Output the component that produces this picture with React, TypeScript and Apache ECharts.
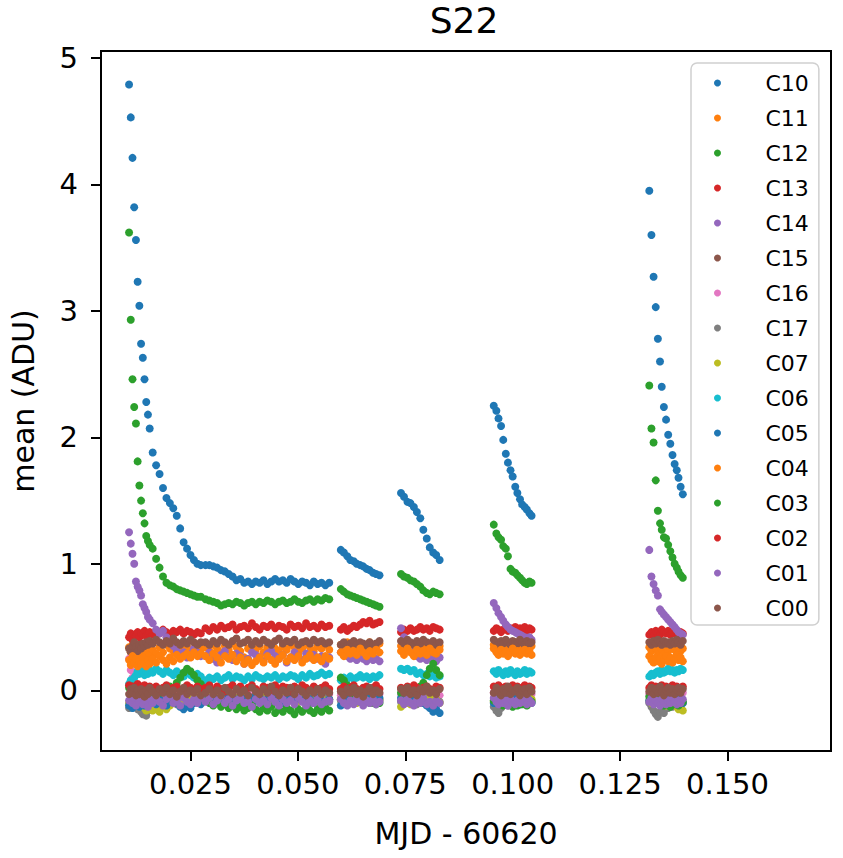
import React, { useEffect, useRef } from 'react';
import * as echarts from 'echarts';

// MJD - 60620 for each observing block (1a/1b/1c are one block split by a short gap)
const T1A = [0.0107, 0.0111, 0.0115, 0.0119, 0.0123, 0.0127, 0.0131, 0.0135, 0.0139, 0.0143, 0.0147, 0.0151, 0.0155];
const T1B = [0.0162, 0.0170, 0.0178, 0.0186, 0.0194, 0.0202, 0.0210, 0.0218, 0.0226, 0.0234, 0.0242, 0.0250, 0.0258, 0.0266, 0.0274];
const T1C = [
  0.0285, 0.0294, 0.0303, 0.0312, 0.0321, 0.0330, 0.0339, 0.0348, 0.0357, 0.0366, 0.0375, 0.0384, 0.0393, 0.0402, 0.0411, 0.0420, 0.0429,
  0.0438, 0.0447, 0.0456, 0.0465, 0.0474, 0.0483, 0.0492, 0.0501, 0.0510, 0.0519, 0.0528, 0.0537, 0.0546, 0.0555, 0.0564, 0.0573,
];
const T2 = [0.0600, 0.0607, 0.0615, 0.0622, 0.0630, 0.0637, 0.0645, 0.0652, 0.0660, 0.0667, 0.0675, 0.0682, 0.0690];
const T3 = [0.0740, 0.0747, 0.0755, 0.0762, 0.0770, 0.0777, 0.0785, 0.0792, 0.0800, 0.0807, 0.0815, 0.0822, 0.0830];
const T4 = [0.0956, 0.0962, 0.0967, 0.0973, 0.0978, 0.0984, 0.0989, 0.0995, 0.1000, 0.1006, 0.1011, 0.1017, 0.1022, 0.1028, 0.1033, 0.1039, 0.1044];
const T5 = [0.1318, 0.1323, 0.1328, 0.1333, 0.1338, 0.1343, 0.1347, 0.1352, 0.1357, 0.1362, 0.1367, 0.1372, 0.1377, 0.1382, 0.1386, 0.1391, 0.1396];
const BLOCKS = [T1A, T1B, T1C, T2, T3, T4, T5];

// mean (ADU) per channel, one list per block
const C10 = [
  [4.79, 4.53, 4.21, 3.82, 3.56, 3.23, 3.04, 2.74, 2.63, 2.46, 2.28, 2.18, 2.07],
  [1.88, 1.78, 1.71, 1.60, 1.52, 1.48, 1.44, 1.38, 1.28, 1.17, 1.12, 1.07, 1.03, 1.00, 0.99],
  [0.99, 0.99, 0.98, 0.97, 0.95, 0.94, 0.92, 0.90, 0.87, 0.88, 0.85, 0.86, 0.84, 0.86, 0.85, 0.87, 0.84, 0.86, 0.88, 0.86, 0.87, 0.85, 0.88, 0.86, 0.84, 0.86, 0.85, 0.83, 0.86, 0.84, 0.85, 0.83, 0.85],
  [1.11, 1.09, 1.06, 1.03, 1.02, 1.00, 0.99, 0.98, 0.96, 0.95, 0.93, 0.92, 0.91],
  [1.56, 1.53, 1.49, 1.48, 1.45, 1.41, 1.36, 1.27, 1.20, 1.13, 1.09, 1.07, 1.03],
  [2.25, 2.21, 2.15, 2.09, 1.98, 1.87, 1.80, 1.74, 1.69, 1.61, 1.56, 1.51, 1.47, 1.45, 1.43, 1.40, 1.38],
  [3.95, 3.60, 3.27, 3.03, 2.78, 2.60, 2.40, 2.24, 2.14, 2.02, 1.95, 1.86, 1.79, 1.74, 1.68, 1.61, 1.55],
];
const C11 = [
  [0.34, 0.30, 0.36, 0.32, 0.27, 0.24, 0.29, 0.26, 0.30, 0.27, 0.31, 0.25, 0.28],
  [0.32, 0.29, 0.34, 0.30, 0.36, 0.33, 0.31, 0.35, 0.32, 0.37, 0.34, 0.30, 0.33, 0.36, 0.32],
  [0.34, 0.31, 0.36, 0.33, 0.30, 0.35, 0.32, 0.37, 0.34, 0.31, 0.26, 0.33, 0.36, 0.32, 0.35, 0.30, 0.34, 0.37, 0.33, 0.31, 0.35, 0.32, 0.36, 0.34, 0.30, 0.33, 0.37, 0.34, 0.31, 0.35, 0.33, 0.36, 0.32],
  [0.36, 0.33, 0.38, 0.35, 0.32, 0.37, 0.34, 0.36, 0.33, 0.38, 0.35, 0.34, 0.37],
  [0.35, 0.32, 0.37, 0.34, 0.36, 0.33, 0.38, 0.35, 0.32, 0.36, 0.34, 0.37, 0.35],
  [0.36, 0.33, 0.38, 0.34, 0.37, 0.35, 0.32, 0.36, 0.34, 0.38, 0.35, 0.33, 0.37, 0.34, 0.36, 0.33, 0.35],
  [0.34, 0.31, 0.36, 0.33, 0.30, 0.35, 0.32, 0.29, 0.34, 0.31, 0.33, 0.35, 0.32, 0.30, 0.34, 0.31, 0.33],
];
const C12 = [
  [3.62, 2.93, 2.46, 2.24, 2.11, 1.81, 1.62, 1.50, 1.40, 1.32, 1.22, 1.18, 1.15],
  [1.12, 1.04, 0.97, 0.90, 0.85, 0.83, 0.82, 0.80, 0.79, 0.78, 0.77, 0.76, 0.75, 0.74, 0.74],
  [0.72, 0.71, 0.70, 0.69, 0.67, 0.68, 0.69, 0.68, 0.70, 0.69, 0.67, 0.69, 0.70, 0.68, 0.70, 0.69, 0.71, 0.70, 0.68, 0.70, 0.71, 0.69, 0.70, 0.72, 0.70, 0.69, 0.71, 0.72, 0.70, 0.72, 0.71, 0.73, 0.72],
  [0.80, 0.78, 0.76, 0.75, 0.74, 0.73, 0.72, 0.71, 0.70, 0.69, 0.68, 0.67, 0.66],
  [0.92, 0.90, 0.89, 0.87, 0.86, 0.84, 0.82, 0.79, 0.77, 0.76, 0.78, 0.77, 0.76],
  [1.31, 1.24, 1.21, 1.19, 1.14, 1.12, 1.06, 0.96, 0.94, 0.93, 0.91, 0.89, 0.87, 0.85, 0.84, 0.86, 0.85],
  [2.41, 2.07, 1.96, 1.66, 1.42, 1.32, 1.27, 1.21, 1.20, 1.15, 1.10, 1.05, 1.00, 0.97, 0.94, 0.91, 0.89],
];
const C13 = [
  [0.42, 0.45, 0.40, 0.44, 0.43, 0.46, 0.42, 0.45, 0.44, 0.47, 0.43, 0.45, 0.46],
  [0.44, 0.47, 0.45, 0.48, 0.46, 0.44, 0.47, 0.46, 0.48, 0.45, 0.47, 0.46, 0.44, 0.46, 0.45],
  [0.49, 0.47, 0.50, 0.48, 0.51, 0.49, 0.50, 0.52, 0.48, 0.50, 0.51, 0.49, 0.53, 0.50, 0.48, 0.51, 0.50, 0.52, 0.49, 0.51, 0.50, 0.48, 0.52, 0.50, 0.51, 0.49, 0.53, 0.50, 0.51, 0.49, 0.52, 0.50, 0.51],
  [0.48, 0.50, 0.47, 0.49, 0.51, 0.50, 0.52, 0.54, 0.53, 0.55, 0.52, 0.53, 0.54],
  [0.46, 0.48, 0.47, 0.49, 0.47, 0.48, 0.50, 0.48, 0.49, 0.47, 0.50, 0.49, 0.48],
  [0.47, 0.49, 0.48, 0.46, 0.48, 0.50, 0.47, 0.49, 0.48, 0.50, 0.47, 0.49, 0.48, 0.50, 0.47, 0.49, 0.48],
  [0.44, 0.46, 0.43, 0.47, 0.45, 0.44, 0.48, 0.46, 0.45, 0.47, 0.44, 0.46, 0.45, 0.47, 0.44, 0.46, 0.45],
];
const C14 = [
  [1.25, 1.16, 1.08, 1.00, 0.86, 0.82, 0.79, 0.75, 0.68, 0.65, 0.62, 0.58, 0.56],
  [0.53, 0.48, 0.45, 0.47, 0.42, 0.38, 0.35, 0.31, 0.28, 0.30, 0.26, 0.29, 0.33, 0.30, 0.27],
  [0.27, 0.30, 0.25, 0.22, 0.28, 0.31, 0.26, 0.24, 0.29, 0.27, 0.21, 0.25, 0.30, 0.28, 0.26, 0.23, 0.29, 0.31, 0.27, 0.25, 0.28, 0.22, 0.26, 0.30, 0.27, 0.24, 0.29, 0.26, 0.28, 0.25, 0.27, 0.21, 0.26],
  [0.30, 0.28, 0.27, 0.25, 0.26, 0.24, 0.27, 0.25, 0.23, 0.26, 0.24, 0.25, 0.23],
  [0.49, 0.42, 0.36, 0.31, 0.28, 0.27, 0.25, 0.26, 0.24, 0.27, 0.25, 0.23, 0.26],
  [0.69, 0.65, 0.61, 0.58, 0.55, 0.52, 0.50, 0.48, 0.47, 0.46, 0.45, 0.44, 0.43, 0.42, 0.41, 0.42, 0.40],
  [1.11, 0.90, 0.84, 0.79, 0.75, 0.64, 0.62, 0.60, 0.58, 0.56, 0.54, 0.52, 0.50, 0.48, 0.46, 0.45, 0.44],
];
const C15 = [
  [0.33, 0.30, 0.35, 0.38, 0.34, 0.31, 0.36, 0.33, 0.37, 0.35, 0.38, 0.36, 0.39],
  [0.37, 0.40, 0.38, 0.36, 0.39, 0.37, 0.41, 0.38, 0.36, 0.39, 0.37, 0.40, 0.38, 0.36, 0.38],
  [0.38, 0.36, 0.39, 0.37, 0.40, 0.38, 0.36, 0.39, 0.41, 0.37, 0.38, 0.40, 0.36, 0.39, 0.37, 0.40, 0.38, 0.36, 0.39, 0.41, 0.37, 0.39, 0.38, 0.40, 0.36, 0.38, 0.39, 0.37, 0.40, 0.38, 0.39, 0.37, 0.38],
  [0.36, 0.38, 0.35, 0.37, 0.39, 0.36, 0.38, 0.37, 0.35, 0.38, 0.36, 0.37, 0.39],
  [0.39, 0.37, 0.40, 0.38, 0.36, 0.39, 0.37, 0.40, 0.38, 0.37, 0.39, 0.36, 0.38],
  [0.40, 0.38, 0.36, 0.39, 0.37, 0.40, 0.38, 0.36, 0.39, 0.38, 0.37, 0.40, 0.38, 0.36, 0.39, 0.37, 0.38],
  [0.38, 0.36, 0.39, 0.37, 0.40, 0.38, 0.36, 0.39, 0.37, 0.38, 0.36, 0.39, 0.37, 0.40, 0.38, 0.36, 0.39],
];
const C16 = [
  [0.25, 0.16, 0.10, 0.05, 0.02, -0.01, -0.03, 0.00, -0.02, -0.04, -0.01, -0.03, -0.05],
  [-0.02, -0.04, -0.01, -0.03, -0.06, -0.02, -0.04, -0.07, -0.03, -0.01, -0.05, -0.02, -0.06, -0.03, -0.04],
  [-0.03, -0.05, -0.02, -0.04, -0.01, -0.06, -0.03, -0.05, -0.02, -0.04, -0.07, -0.03, -0.05, -0.02, -0.04, -0.06, -0.03, -0.08, -0.05, -0.02, -0.04, -0.06, -0.03, -0.05, -0.02, -0.04, -0.07, -0.03, -0.05, -0.02, -0.04, -0.06, -0.03],
  [-0.04, -0.02, -0.05, -0.03, -0.06, -0.02, -0.04, -0.03, -0.05, -0.02, -0.04, -0.06, -0.03],
  [-0.03, -0.05, -0.02, -0.04, -0.06, -0.03, -0.05, -0.02, -0.04, -0.03, -0.05, -0.02, -0.04],
  [-0.02, -0.04, -0.03, -0.05, -0.02, -0.04, -0.06, -0.03, -0.05, -0.02, -0.04, -0.03, -0.05, -0.02, -0.04, -0.06, -0.03],
  [-0.03, -0.05, -0.02, -0.04, -0.06, -0.03, -0.05, -0.02, -0.04, -0.03, -0.05, -0.02, -0.04, -0.06, -0.03, -0.05, -0.02],
];
const C17 = [
  [-0.14, -0.11, -0.09, -0.13, -0.10, -0.15, -0.12, -0.17, -0.19, -0.18, -0.20, -0.16, -0.13],
  [-0.11, -0.08, -0.12, -0.09, -0.07, -0.10, -0.08, -0.11, -0.09, -0.06, -0.10, -0.08, -0.07, -0.09, -0.06],
  [-0.07, -0.09, -0.06, -0.08, -0.05, -0.09, -0.07, -0.10, -0.06, -0.08, -0.05, -0.09, -0.07, -0.04, -0.08, -0.06, -0.10, -0.07, -0.05, -0.09, -0.06, -0.08, -0.07, -0.05, -0.09, -0.06, -0.08, -0.10, -0.07, -0.05, -0.08, -0.06, -0.09],
  [-0.08, -0.06, -0.10, -0.07, -0.09, -0.05, -0.08, -0.06, -0.09, -0.07, -0.10, -0.06, -0.08],
  [-0.09, -0.07, -0.10, -0.06, -0.08, -0.11, -0.07, -0.09, -0.06, -0.08, -0.10, -0.07, -0.09],
  [-0.13, -0.16, -0.18, -0.14, -0.11, -0.09, -0.12, -0.08, -0.10, -0.07, -0.09, -0.11, -0.08, -0.10, -0.07, -0.09, -0.08],
  [-0.10, -0.13, -0.16, -0.19, -0.21, -0.17, -0.15, -0.18, -0.12, -0.14, -0.11, -0.13, -0.10, -0.12, -0.09, -0.11, -0.10],
];
const C07 = [
  [-0.10, -0.07, -0.12, -0.08, -0.05, -0.09, -0.11, -0.06, -0.10, -0.14, -0.16, -0.12, -0.15],
  [-0.16, -0.14, -0.17, -0.13, -0.15, -0.12, -0.10, -0.08, -0.11, -0.07, -0.05, -0.08, -0.06, -0.04, -0.07],
  [-0.08, -0.05, -0.09, -0.06, -0.10, -0.07, -0.04, -0.08, -0.06, -0.09, -0.05, -0.07, -0.10, -0.06, -0.08, -0.05, -0.09, -0.07, -0.04, -0.08, -0.06, -0.10, -0.07, -0.05, -0.09, -0.06, -0.08, -0.05, -0.07, -0.10, -0.06, -0.09, -0.07],
  [-0.07, -0.09, -0.05, -0.08, -0.06, -0.10, -0.07, -0.05, -0.09, -0.06, -0.08, -0.10, -0.07],
  [-0.13, -0.10, -0.08, -0.11, -0.07, -0.09, -0.06, -0.10, -0.08, -0.05, -0.09, -0.07, -0.10],
  [-0.09, -0.06, -0.10, -0.08, -0.05, -0.09, -0.07, -0.11, -0.08, -0.06, -0.10, -0.07, -0.09, -0.06, -0.08, -0.10, -0.07],
  [-0.08, -0.10, -0.06, -0.09, -0.07, -0.11, -0.08, -0.10, -0.12, -0.09, -0.11, -0.08, -0.10, -0.13, -0.15, -0.14, -0.16],
];
const C06 = [
  [0.05, 0.08, 0.06, 0.10, 0.12, 0.15, 0.13, 0.16, 0.14, 0.12, 0.15, 0.13, 0.16],
  [0.14, 0.17, 0.15, 0.13, 0.16, 0.14, 0.12, 0.15, 0.13, 0.11, 0.14, 0.12, 0.10, 0.13, 0.11],
  [0.08, 0.10, 0.09, 0.11, 0.08, 0.10, 0.12, 0.09, 0.11, 0.10, 0.08, 0.11, 0.09, 0.12, 0.10, 0.09, 0.11, 0.10, 0.12, 0.09, 0.11, 0.10, 0.12, 0.11, 0.09, 0.12, 0.10, 0.13, 0.11, 0.12, 0.14, 0.12, 0.13],
  [0.08, 0.10, 0.09, 0.11, 0.09, 0.10, 0.12, 0.10, 0.11, 0.09, 0.11, 0.10, 0.12],
  [0.17, 0.16, 0.17, 0.15, 0.16, 0.13, 0.14, 0.12, 0.13, 0.11, 0.12, 0.10, 0.11],
  [0.15, 0.13, 0.16, 0.14, 0.12, 0.15, 0.13, 0.16, 0.14, 0.12, 0.15, 0.13, 0.14, 0.16, 0.13, 0.15, 0.14],
  [0.11, 0.13, 0.12, 0.14, 0.15, 0.13, 0.16, 0.14, 0.15, 0.17, 0.15, 0.16, 0.14, 0.16, 0.15, 0.17, 0.16],
];
const C05 = [
  [-0.12, -0.09, -0.14, -0.10, -0.07, -0.11, -0.13, -0.08, -0.10, -0.12, -0.09, -0.06, -0.10],
  [-0.08, -0.11, -0.07, -0.10, -0.12, -0.09, -0.06, -0.10, -0.13, -0.15, -0.12, -0.14, -0.10, -0.08, -0.11],
  [-0.06, -0.08, -0.05, -0.09, -0.07, -0.04, -0.08, -0.06, -0.09, -0.05, -0.07, -0.10, -0.06, -0.08, -0.05, -0.09, -0.07, -0.04, -0.08, -0.06, -0.10, -0.07, -0.05, -0.09, -0.06, -0.08, -0.05, -0.07, -0.10, -0.06, -0.08, -0.09, -0.07],
  [-0.12, -0.09, -0.06, -0.08, -0.05, -0.07, -0.09, -0.06, -0.08, -0.05, -0.07, -0.09, -0.06],
  [-0.06, -0.08, -0.05, -0.09, -0.07, -0.04, -0.08, -0.10, -0.12, -0.14, -0.17, -0.15, -0.18],
  [-0.10, -0.07, -0.09, -0.06, -0.08, -0.05, -0.09, -0.07, -0.10, -0.06, -0.08, -0.11, -0.07, -0.09, -0.06, -0.08, -0.10],
  [-0.08, -0.05, -0.09, -0.07, -0.10, -0.06, -0.08, -0.11, -0.07, -0.09, -0.06, -0.10, -0.08, -0.05, -0.09, -0.07, -0.10],
];
const C04 = [
  [0.24, 0.20, 0.27, 0.22, 0.25, 0.19, 0.23, 0.21, 0.26, 0.22, 0.19, 0.24, 0.21],
  [0.25, 0.22, 0.27, 0.24, 0.21, 0.26, 0.23, 0.28, 0.25, 0.27, 0.29, 0.26, 0.30, 0.27, 0.29],
  [0.27, 0.24, 0.29, 0.26, 0.22, 0.27, 0.25, 0.28, 0.23, 0.26, 0.21, 0.24, 0.20, 0.23, 0.26, 0.22, 0.27, 0.24, 0.21, 0.25, 0.28, 0.23, 0.26, 0.24, 0.27, 0.22, 0.25, 0.28, 0.24, 0.26, 0.23, 0.27, 0.25],
  [0.30, 0.27, 0.32, 0.29, 0.31, 0.28, 0.33, 0.30, 0.27, 0.31, 0.29, 0.32, 0.30],
  [0.31, 0.28, 0.33, 0.30, 0.27, 0.32, 0.29, 0.31, 0.28, 0.33, 0.30, 0.29, 0.32],
  [0.33, 0.30, 0.28, 0.32, 0.29, 0.31, 0.27, 0.30, 0.33, 0.29, 0.31, 0.28, 0.30, 0.32, 0.29, 0.31, 0.28],
  [0.27, 0.24, 0.22, 0.26, 0.23, 0.25, 0.21, 0.24, 0.27, 0.23, 0.26, 0.22, 0.25, 0.28, 0.24, 0.26, 0.23],
];
const C03 = [
  [0.02, -0.01, 0.03, 0.00, -0.02, 0.01, -0.03, 0.00, 0.02, -0.01, 0.01, -0.02, 0.00],
  [-0.03, 0.00, -0.02, 0.01, -0.01, 0.03, 0.02, 0.06, 0.10, 0.14, 0.17, 0.15, 0.12, 0.08, 0.05],
  [-0.08, -0.10, -0.12, -0.09, -0.13, -0.11, -0.14, -0.12, -0.15, -0.13, -0.16, -0.14, -0.12, -0.15, -0.17, -0.14, -0.16, -0.13, -0.18, -0.15, -0.17, -0.14, -0.16, -0.19, -0.15, -0.17, -0.14, -0.16, -0.18, -0.15, -0.17, -0.14, -0.16],
  [0.10, 0.08, 0.04, 0.00, -0.03, -0.05, -0.07, -0.06, -0.08, -0.10, -0.09, -0.11, -0.10],
  [-0.02, 0.00, -0.03, 0.01, -0.02, 0.00, 0.03, 0.06, 0.12, 0.17, 0.21, 0.16, 0.12],
  [-0.08, -0.05, -0.10, -0.07, -0.12, -0.09, -0.11, -0.08, -0.13, -0.10, -0.12, -0.09, -0.11, -0.08, -0.12, -0.10, -0.09],
  [-0.05, -0.08, -0.06, -0.10, -0.07, -0.11, -0.09, -0.12, -0.08, -0.10, -0.13, -0.09, -0.11, -0.08, -0.12, -0.10, -0.09],
];
const C02 = [
  [0.04, 0.01, 0.03, -0.01, 0.02, 0.05, 0.00, 0.03, 0.01, 0.04, -0.02, 0.02, 0.03],
  [0.01, 0.03, -0.01, 0.02, 0.04, 0.00, 0.02, 0.03, -0.01, 0.01, 0.04, 0.02, 0.00, 0.03, 0.01],
  [0.02, 0.04, 0.00, 0.03, 0.01, -0.01, 0.02, 0.04, 0.01, 0.03, 0.00, 0.02, 0.04, 0.01, -0.01, 0.03, 0.02, 0.00, 0.04, 0.01, 0.03, 0.02, -0.01, 0.03, 0.01, 0.04, 0.02, 0.00, 0.03, 0.01, 0.02, 0.04, 0.01],
  [0.01, 0.03, 0.00, 0.02, 0.04, 0.01, -0.01, 0.02, 0.03, 0.00, 0.02, 0.04, 0.01],
  [0.02, 0.00, 0.03, 0.01, 0.04, 0.02, -0.01, 0.02, 0.03, 0.01, 0.00, 0.03, 0.02],
  [0.03, 0.01, 0.04, 0.00, 0.02, 0.03, -0.01, 0.02, 0.04, 0.01, 0.03, 0.00, 0.02, 0.04, 0.01, 0.03, 0.02],
  [0.02, 0.04, 0.01, 0.03, 0.00, 0.02, 0.04, 0.01, 0.03, -0.01, 0.02, 0.04, 0.01, 0.03, 0.00, 0.02, 0.03],
];
const C01 = [
  [-0.08, -0.05, -0.10, -0.06, -0.12, -0.07, -0.09, -0.04, -0.11, -0.06, -0.08, -0.13, -0.07],
  [-0.10, -0.06, -0.09, -0.12, -0.07, -0.05, -0.10, -0.08, -0.12, -0.06, -0.09, -0.11, -0.07, -0.10, -0.06],
  [-0.09, -0.06, -0.11, -0.08, -0.05, -0.10, -0.07, -0.12, -0.08, -0.06, -0.10, -0.09, -0.13, -0.07, -0.10, -0.08, -0.11, -0.06, -0.09, -0.12, -0.07, -0.10, -0.08, -0.11, -0.06, -0.09, -0.12, -0.08, -0.10, -0.07, -0.11, -0.09, -0.08],
  [-0.07, -0.10, -0.12, -0.08, -0.11, -0.06, -0.09, -0.12, -0.08, -0.10, -0.07, -0.11, -0.09],
  [-0.08, -0.11, -0.07, -0.10, -0.12, -0.08, -0.10, -0.06, -0.11, -0.09, -0.12, -0.08, -0.10],
  [-0.06, -0.09, -0.11, -0.07, -0.10, -0.08, -0.12, -0.07, -0.09, -0.11, -0.08, -0.10, -0.07, -0.09, -0.11, -0.08, -0.10],
  [-0.09, -0.06, -0.11, -0.08, -0.10, -0.12, -0.07, -0.09, -0.11, -0.08, -0.10, -0.06, -0.09, -0.11, -0.08, -0.10, -0.07],
];
const C00 = [
  [-0.03, 0.01, -0.02, 0.02, -0.04, 0.00, -0.03, 0.01, -0.02, -0.05, 0.00, -0.03, 0.02],
  [-0.01, -0.04, 0.01, -0.02, 0.02, -0.03, 0.00, -0.05, -0.01, 0.02, -0.03, 0.00, -0.02, 0.01, -0.04],
  [-0.02, 0.01, -0.03, 0.00, -0.04, 0.02, -0.01, -0.03, 0.01, -0.02, 0.00, -0.04, 0.02, -0.01, -0.03, 0.01, -0.02, 0.03, -0.01, -0.04, 0.00, -0.02, 0.02, -0.03, 0.01, -0.01, -0.04, 0.00, -0.02, 0.01, -0.03, 0.00, -0.02],
  [-0.01, -0.04, 0.01, -0.02, 0.02, -0.03, 0.00, -0.05, -0.01, 0.02, -0.03, 0.00, -0.02],
  [0.01, -0.02, 0.02, -0.03, 0.00, -0.04, 0.01, -0.01, 0.03, -0.02, 0.00, -0.03, 0.01],
  [-0.02, 0.02, -0.01, -0.04, 0.01, -0.02, 0.03, -0.03, 0.00, -0.01, 0.02, -0.04, 0.00, 0.01, -0.03, 0.02, -0.01],
  [-0.01, 0.02, -0.03, 0.01, -0.02, 0.03, -0.01, -0.04, 0.00, 0.02, -0.02, 0.01, -0.03, 0.00, 0.02, -0.02, 0.01],
];

const CHANNELS = ['C10', 'C11', 'C12', 'C13', 'C14', 'C15', 'C16', 'C17', 'C07', 'C06', 'C05', 'C04', 'C03', 'C02', 'C01', 'C00'];
const CHANNEL_VALUES = [C10, C11, C12, C13, C14, C15, C16, C17, C07, C06, C05, C04, C03, C02, C01, C00];
const COLORS = [
  '#1f77b4', '#ff7f0e', '#2ca02c', '#d62728', '#9467bd', '#8c564b', '#e377c2', '#7f7f7f',
  '#bcbd22', '#17becf', '#1f77b4', '#ff7f0e', '#2ca02c', '#d62728', '#9467bd', '#8c564b',
];
const X_TICKS = [0.025, 0.05, 0.075, 0.1, 0.125, 0.15];
const Y_TICKS = [0, 1, 2, 3, 4, 5];

const FONT = 'DejaVu Sans';

const toPoints = (blocks: number[][]) =>
  blocks.flatMap((vals, b) =>
    vals.filter((_, i) => i < BLOCKS[b].length).map((v, i) => [BLOCKS[b][i], v])
  );

const App: React.FC = () => {
  const chartRef = useRef<HTMLDivElement | null>(null);

  useEffect(() => {
    if (!chartRef.current) return;
    const chart = echarts.init(chartRef.current, undefined, { renderer: 'svg' });

    const axisText = { fontFamily: FONT, fontSize: 29, color: '#000' };

    const option = {
      animation: false,
      backgroundColor: '#fff',
      title: {
        text: 'S22',
        left: 464,
        top: 2,
        textAlign: 'center',
        padding: 0,
        textStyle: { fontFamily: FONT, fontSize: 36, fontWeight: 'normal', color: '#000' },
      },
      grid: {
        left: 97,
        right: 12,
        top: 51,
        bottom: 107,
        show: true,
        borderColor: '#000',
        borderWidth: 2,
        backgroundColor: 'transparent',
      },
      legend: {
        orient: 'vertical',
        left: 691,
        top: 63,
        padding: [9, 10, 6, 23],
        itemWidth: 20,
        itemHeight: 7,
        itemGap: 13,
        icon: 'circle',
        selectedMode: false,
        backgroundColor: 'rgba(255,255,255,0.8)',
        borderColor: '#d0d0d0',
        borderWidth: 1.5,
        borderRadius: 6,
        textStyle: { fontFamily: FONT, fontSize: 22, lineHeight: 22, color: '#000', padding: [0, 0, 0, 33] },
        data: CHANNELS,
      },
      xAxis: {
        type: 'value',
        min: 0.00417,
        max: 0.1741,
        name: 'MJD - 60620',
        nameLocation: 'middle',
        nameGap: 67,
        nameTextStyle: { fontFamily: FONT, fontSize: 30, color: '#000' },
        axisLine: { show: false, onZero: false },
        axisTick: { show: true, customValues: X_TICKS, length: 10, lineStyle: { color: '#000', width: 2 } },
        axisLabel: { ...axisText, customValues: X_TICKS, margin: 18, formatter: (v: number) => v.toFixed(3) },
        splitLine: { show: false },
      },
      yAxis: {
        type: 'value',
        min: -0.48,
        max: 5.055,
        name: 'mean (ADU)',
        nameLocation: 'middle',
        nameGap: 63,
        nameTextStyle: { fontFamily: FONT, fontSize: 30, color: '#000' },
        axisLine: { show: false, onZero: false },
        axisTick: { show: true, customValues: Y_TICKS, length: 10, lineStyle: { color: '#000', width: 2 } },
        axisLabel: { ...axisText, customValues: Y_TICKS, margin: 23, formatter: (v: number) => String(v) },
        splitLine: { show: false },
      },
      series: CHANNELS.map((name, k) => ({
        name,
        type: 'scatter',
        data: toPoints(CHANNEL_VALUES[k]),
        symbol: 'circle',
        symbolSize: 8,
        itemStyle: { color: COLORS[k], opacity: 1 },
        silent: true,
        emphasis: { disabled: true },
      })),
    };

    chart.setOption(option);

    return () => {
      chart.dispose();
    };
  }, []);

  return <div ref={chartRef} style={{ position: 'fixed', left: 0, top: 0, width: 843, height: 858 }} />;
};

export default App;
